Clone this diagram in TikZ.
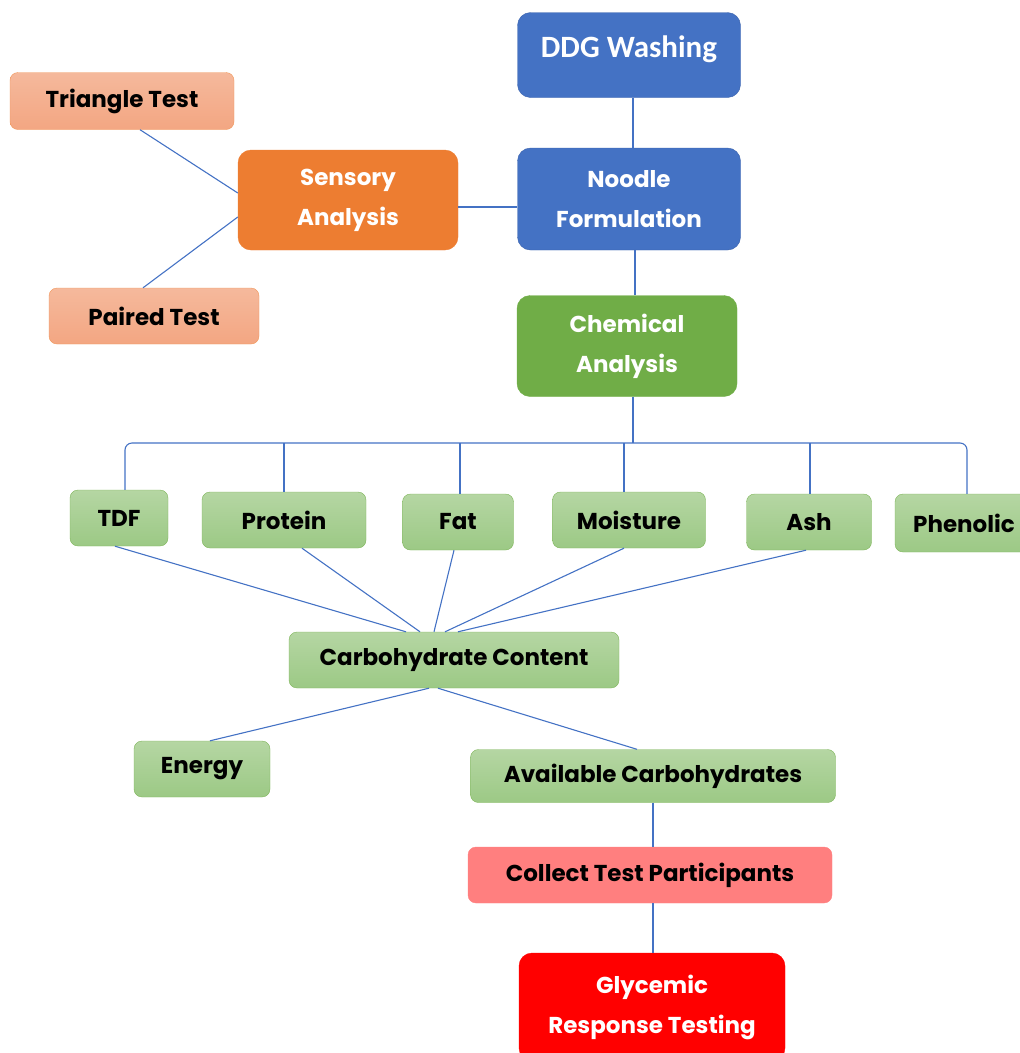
\documentclass[tikz,border=0pt]{standalone}
\usepackage{fontspec}
\setmainfont{Poppins}
\newfontfamily\calibri{Carlito}
\usetikzlibrary{positioning}

\definecolor{offblue}{HTML}{4472C4}
\definecolor{offblueline}{HTML}{3A62AC}
\definecolor{offorange}{HTML}{ED7D31}
\definecolor{offgreen}{HTML}{70AD47}
\definecolor{salmontop}{HTML}{F5B99C}
\definecolor{salmonbot}{HTML}{F3A682}
\definecolor{mintop}{HTML}{B5D6A3}
\definecolor{minbot}{HTML}{9CC985}
\definecolor{pinkred}{HTML}{FF7F7F}
\definecolor{brightred}{HTML}{FF0000}

\tikzset{
  box/.style={rounded corners=8pt, draw, align=center, inner sep=0pt,
    font=\fontsize{23}{40}\selectfont\bfseries},
  bigbox/.style={box, rounded corners=13pt, text=white},
  bluebox/.style={bigbox, fill=offblue, draw=offblueline},
  orangebox/.style={bigbox, fill=offorange, draw=offorange},
  greenbox/.style={bigbox, fill=offgreen, draw=offgreen},
  redbox/.style={bigbox, fill=brightred, draw=brightred},
  salmonbox/.style={box, top color=salmontop, bottom color=salmonbot, draw=offorange!80},
  mintbox/.style={box, top color=mintop, bottom color=minbot, draw=offgreen!90},
  pinkbox/.style={box, fill=pinkred, draw=pinkred},
  link/.style={draw=offblue, line width=1.1pt}
}

\begin{document}
\begin{tikzpicture}[x=1pt,y=-1pt]
  \useasboundingbox (0,0) rectangle (1020,1053);

  % main column
  \node[bluebox, minimum width=223pt, minimum height=85pt, text depth=17pt,
    font=\calibri\fontsize{31}{36}\selectfont\bfseries] (ddg) at (629,55) {DDG Washing};
  \node[bluebox, minimum width=223pt, minimum height=102pt] (noodle) at (629,199) {Noodle\\Formulation};
  \node[orangebox, minimum width=220pt, minimum height=100pt] (sensory) at (348,200) {Sensory\\Analysis};
  \node[salmonbox, minimum width=224pt, minimum height=57pt] (triangle) at (122,101) {Triangle Test};
  \node[salmonbox, minimum width=210pt, minimum height=56pt] (paired) at (154,316) {Paired Test};
  \node[greenbox, minimum width=220pt, minimum height=101pt] (chem) at (627,346) {Chemical\\Analysis};

  % analyses
  \begin{scope}[every node/.style={mintbox, minimum height=56pt}]
    \node[minimum width=98pt] (tdf) at (119,518) {TDF};
    \node[minimum width=164pt] (protein) at (284,520) {Protein};
    \node[minimum width=111pt] (fat) at (458,522) {Fat};
    \node[minimum width=153pt] (moist) at (629,520) {Moisture};
    \node[minimum width=125pt] (ash) at (809,522) {Ash};
    \node[minimum width=138pt, minimum height=58pt] (phen) at (964,523) {Phenolic};
    \node[minimum width=330pt] (carb) at (454,660) {Carbohydrate Content};
    \node[minimum width=136pt] (energy) at (202,769) {Energy};
    \node[minimum width=365pt, minimum height=53pt] (avail) at (653,776) {Available Carbohydrates};
  \end{scope}

  \node[pinkbox, minimum width=364pt, minimum height=56pt] (collect) at (650,875) {Collect Test Participants};
  \node[redbox, minimum width=266pt, minimum height=108pt] (glyc) at (652,1007) {Glycemic\\Response Testing};

  % connectors
  \draw[link] ([xshift=4pt]ddg.south) -- ([xshift=4pt]noodle.north);
  \draw[link] ([yshift=-7pt]sensory.east) -- ([yshift=-7pt]sensory.east -| noodle.west);
  \draw[link] ([xshift=18pt]triangle.south) -- ([yshift=7pt]sensory.west);
  \draw[link] ([xshift=-11pt]paired.north) -- ([yshift=-17pt]sensory.west);
  \draw[link] ([xshift=6pt]noodle.south) -- ([xshift=6pt]noodle.south |- chem.north);

  \coordinate (bus) at (633,443);
  \draw[link] (chem.south -| bus) -- (bus);
  \draw[link, rounded corners=7pt] ([xshift=6pt]tdf.north) |- (bus) -| ([xshift=3pt]phen.north);
  \draw[link] (protein.north) -- (protein.north |- bus);
  \draw[link] ([xshift=2pt]fat.north) -- ([xshift=2pt]fat.north |- bus);
  \draw[link] ([xshift=-5pt]moist.north) -- ([xshift=-5pt]moist.north |- bus);
  \draw[link] ([xshift=1pt]ash.north) -- ([xshift=1pt]ash.north |- bus);

  \draw[link] ([xshift=-4pt]tdf.south) -- ([xshift=-48pt]carb.north);
  \draw[link] ([xshift=18pt]protein.south) -- ([xshift=-34pt]carb.north);
  \draw[link] ([xshift=-4pt]fat.south) -- ([xshift=-20pt]carb.north);
  \draw[link] ([xshift=-5pt]moist.south) -- ([xshift=-9pt]carb.north);
  \draw[link] ([xshift=-3pt]ash.south) -- ([xshift=4pt]carb.north);

  \draw[link] ([xshift=-25pt]carb.south) -- ([xshift=8pt]energy.north);
  \draw[link] ([xshift=-16pt]carb.south) -- ([xshift=-16pt]avail.north);
  \draw[link] (avail.south) -- (avail.south |- collect.north);
  \draw[link] ([xshift=3pt]collect.south) -- ([xshift=3pt]collect.south |- glyc.north);
\end{tikzpicture}
\end{document}
